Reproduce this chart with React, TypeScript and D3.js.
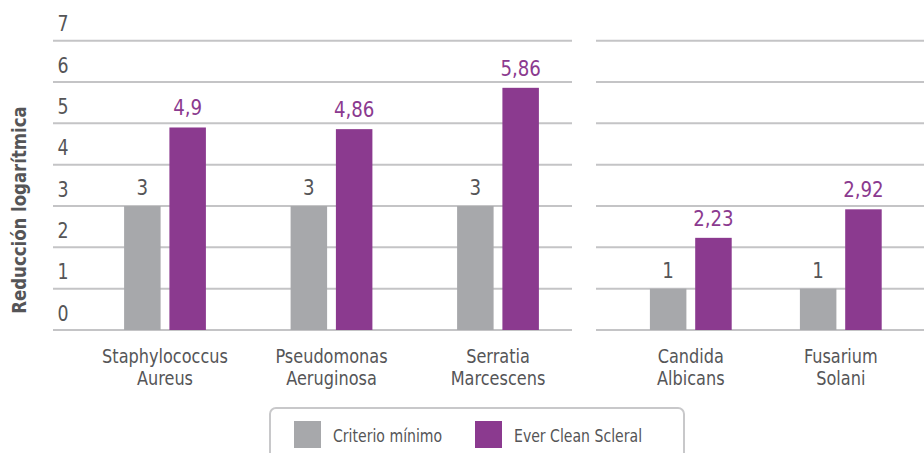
import React from "react";
import * as d3 from "d3";

const leftCategories = [["Staphylococcus", "Aureus"], ["Pseudomonas", "Aeruginosa"], ["Serratia", "Marcescens"]];
const leftCriterio = [3, 3, 3];
const leftEver = [4.9, 4.86, 5.86];
const rightCategories = [["Candida", "Albicans"], ["Fusarium", "Solani"]];
const rightCriterio = [1, 1];
const rightEver = [2.23, 2.92];
const yTicks = [0, 1, 2, 3, 4, 5, 6, 7];
const seriesNames = ["Criterio mínimo", "Ever Clean Scleral"];
const yTitle = "Reducción logarítmica";

const GRAY = "#a7a8ab";
const PURPLE = "#8b3a8f";
const TEXT = "#555557";
const GRID = "#c4c4c6";
const FONT = "'DejaVu Sans Condensed', 'Roboto', sans-serif";
const SX = 0.92;

const fmt = (v: number) => String(v).replace(".", ",");

function T(props: { x: number; y: number; anchor?: string; fill: string; size: number; weight?: string; rotate?: number; children: React.ReactNode }) {
  const { x, y, anchor = "middle", fill, size, weight, rotate = 0, children } = props;
  return (
    <text
      transform={`translate(${x},${y}) rotate(${rotate}) scale(${SX},1)`}
      textAnchor={anchor}
      fill={fill}
      fontSize={size}
      fontWeight={weight}
    >
      {children}
    </text>
  );
}

export default function App() {
  const W = 924, H = 453;
  const y = d3.scaleLinear().domain([0, 7]).range([330, 40.7]);
  const xL = d3.scaleBand<number>().domain(d3.range(3)).range([81.75, 581.25]);
  const xR = d3.scaleBand<number>().domain(d3.range(2)).range([615.8, 915.8]);
  const barW = 36.5, gap = 8.8;

  const panel = (x: d3.ScaleBand<number>, cats: string[][], crit: number[], ever: number[], gx0: number, gx1: number, key: string) => (
    <g key={key}>
      {yTicks.map((t) => (
        <line key={t} x1={gx0} x2={gx1} y1={y(t)} y2={y(t)} stroke={GRID} strokeWidth={2} />
      ))}
      {cats.map((c, i) => {
        const cx = (x(i) as number) + x.bandwidth() / 2;
        const gxs = cx - gap / 2 - barW;
        const pxs = cx + gap / 2;
        return (
          <g key={i}>
            <rect x={gxs} y={y(crit[i])} width={barW} height={y(0) - y(crit[i])} fill={GRAY} />
            <rect x={pxs} y={y(ever[i])} width={barW} height={y(0) - y(ever[i])} fill={PURPLE} />
            <T x={gxs + barW / 2} y={y(crit[i]) - 11} fill={TEXT} size={22}>{fmt(crit[i])}</T>
            <T x={pxs + barW / 2} y={y(ever[i]) - 12} fill={PURPLE} size={22}>{fmt(ever[i])}</T>
            <T x={cx} y={363} fill={TEXT} size={19.5}>{c[0]}</T>
            <T x={cx} y={385} fill={TEXT} size={19.5}>{c[1]}</T>
          </g>
        );
      })}
    </g>
  );

  return (
    <svg width={W} height={H} style={{ position: "absolute", left: 0, top: 0, fontFamily: FONT }}>
      <rect width={W} height={H} fill="#fff" />
      {panel(xL, leftCategories, leftCriterio, leftEver, 53, 572, "L")}
      {panel(xR, rightCategories, rightCriterio, rightEver, 596, 924, "R")}
      {yTicks.map((t) => (
        <T key={t} x={63} y={y(t) - 9.5} fill={TEXT} size={21}>{t}</T>
      ))}
      <T x={26} y={210} rotate={-90} fill={TEXT} size={20} weight="bold">{yTitle}</T>
      <rect x={270} y={408} width={414} height={60} rx={6} fill="#fff" stroke="#c8c8ca" strokeWidth={2} />
      <rect x={294} y={421} width={27} height={27} fill={GRAY} />
      <T x={333} y={442} anchor="start" fill={TEXT} size={17}>{seriesNames[0]}</T>
      <rect x={475} y={421} width={27} height={27} fill={PURPLE} />
      <T x={514} y={442} anchor="start" fill={TEXT} size={17}>{seriesNames[1]}</T>
    </svg>
  );
}
